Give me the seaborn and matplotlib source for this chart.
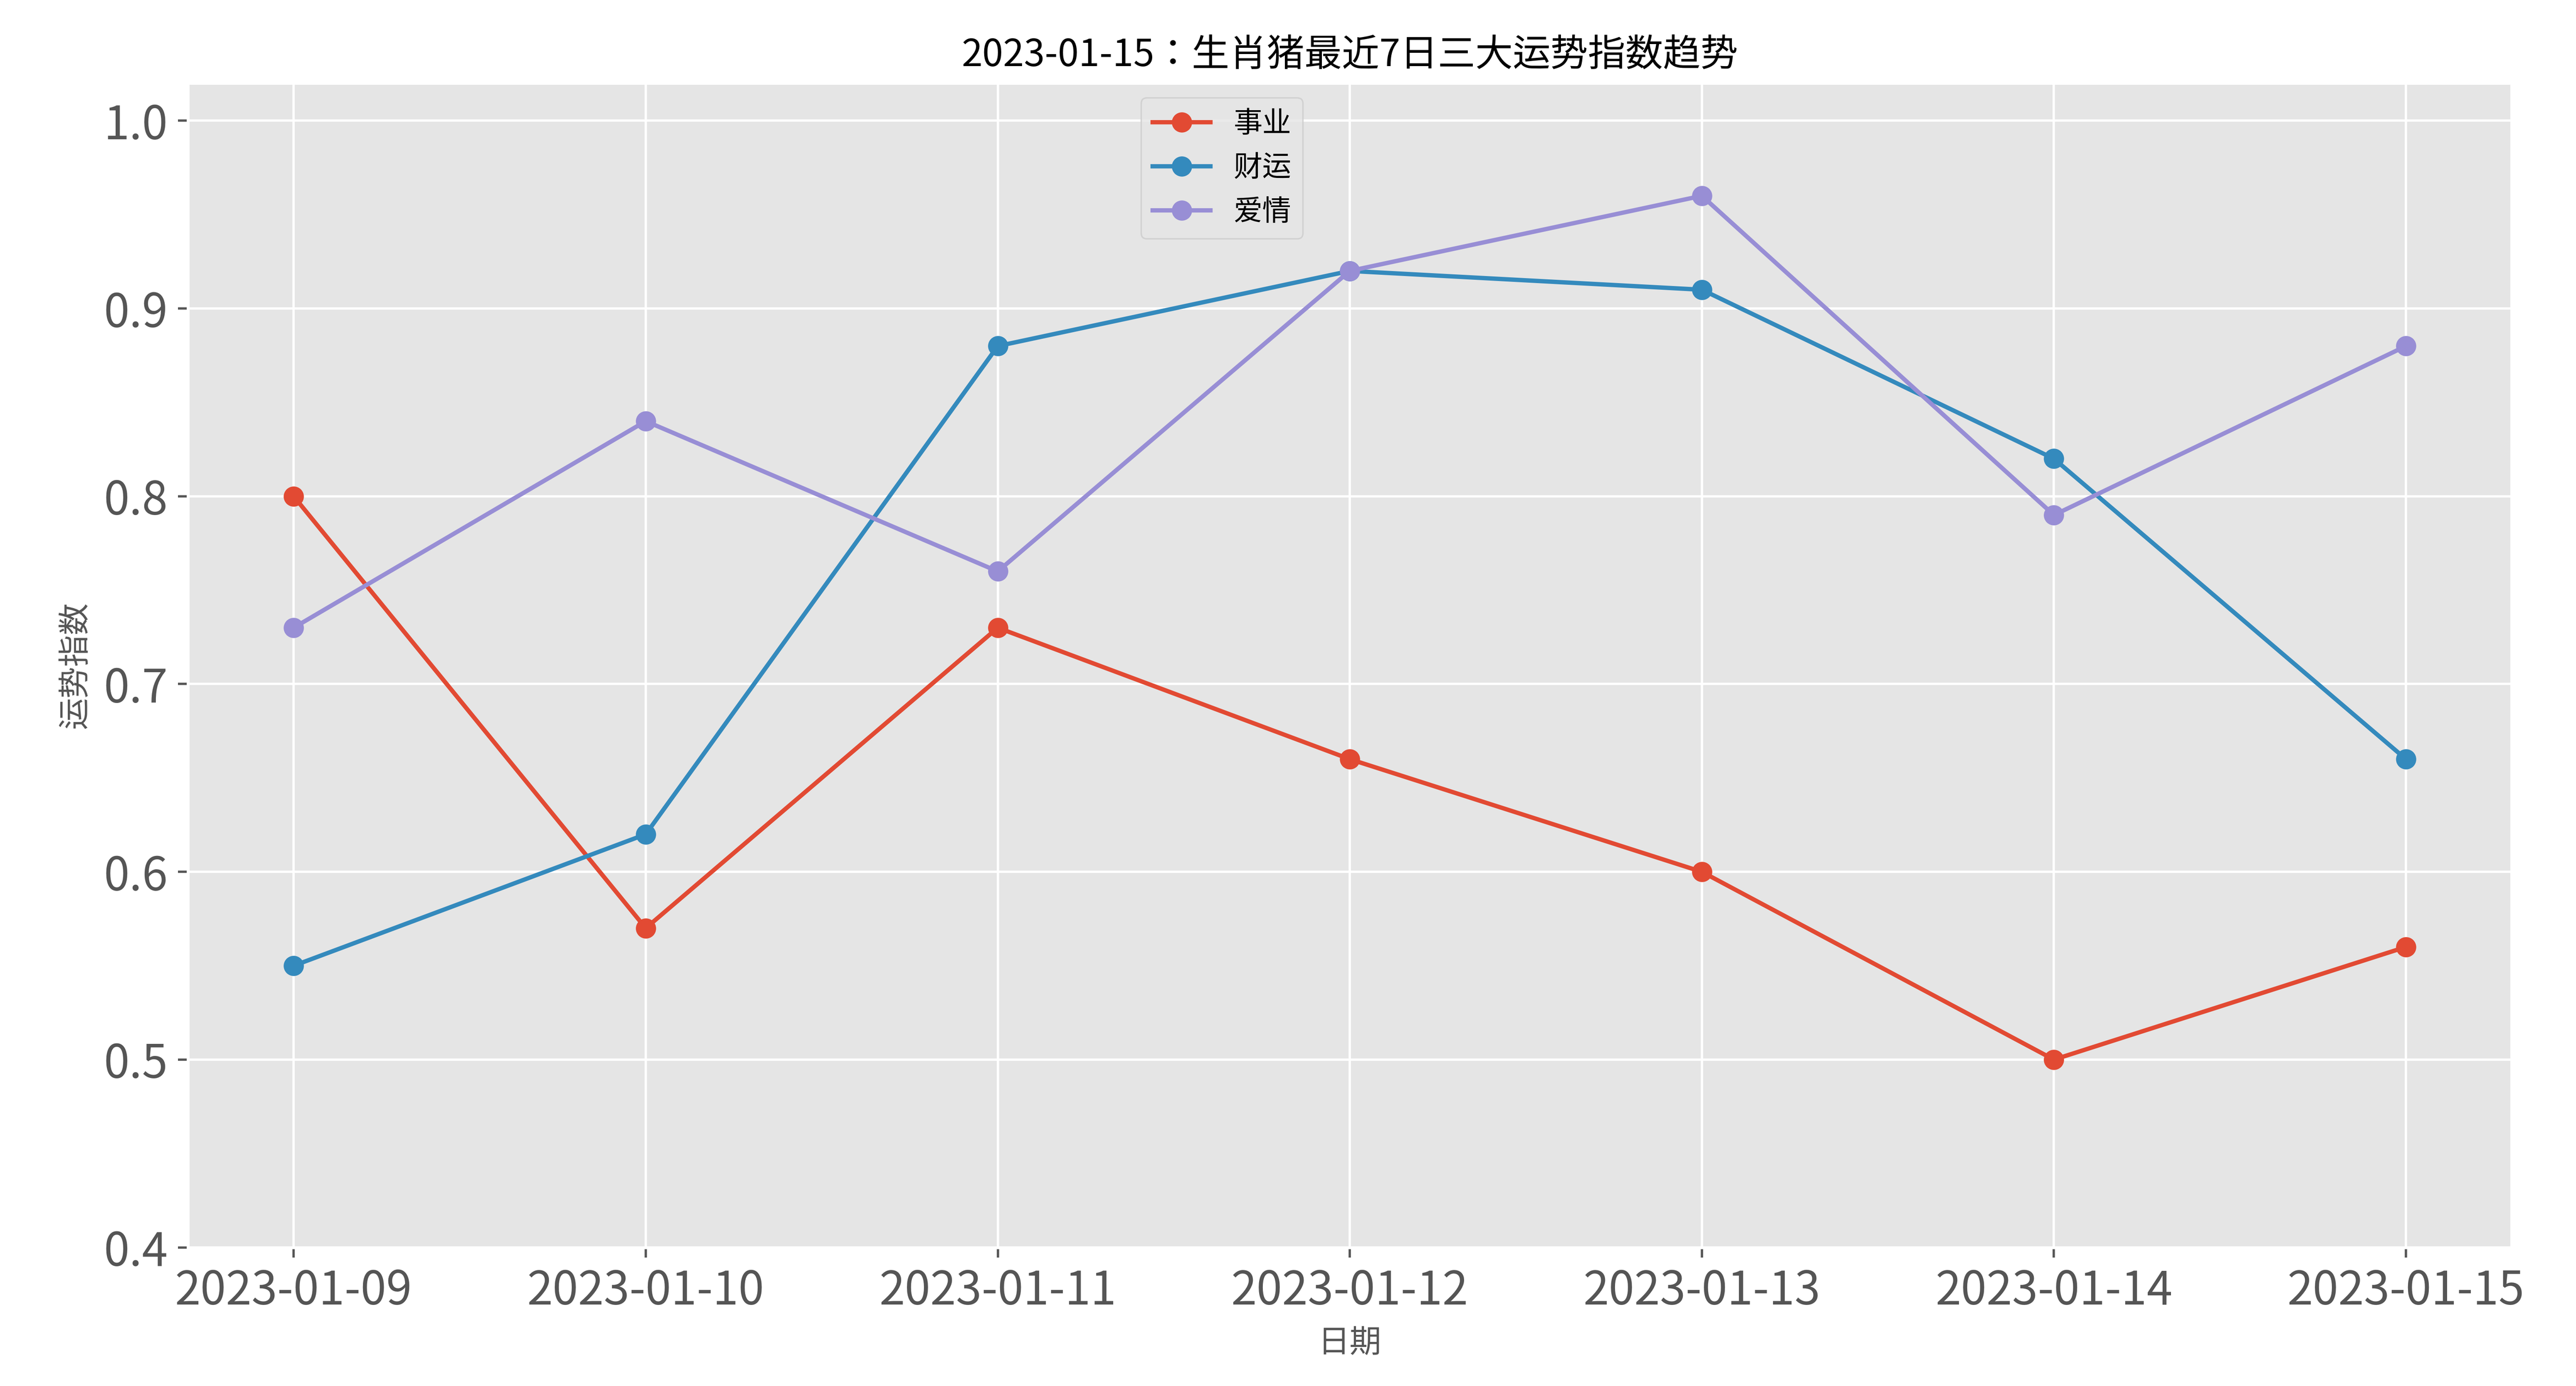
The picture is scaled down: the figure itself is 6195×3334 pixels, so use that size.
import matplotlib
matplotlib.use("Agg")
import matplotlib.pyplot as plt
from matplotlib import font_manager
import seaborn as sns
import pandas as pd

dates = ["2023-01-09","2023-01-10","2023-01-11","2023-01-12","2023-01-13","2023-01-14","2023-01-15"]
career = [0.80,0.57,0.73,0.66,0.60,0.50,0.56]
wealth = [0.55,0.62,0.88,0.92,0.91,0.82,0.66]
love = [0.73,0.84,0.76,0.92,0.96,0.79,0.88]
series_names = ["事业","财运","爱情"]

plt.style.use("ggplot")
names = {f.name for f in font_manager.fontManager.ttflist}
cjk = [n for n in ["Noto Sans CJK SC","Noto Sans CJK JP","Noto Sans CJK TC","Noto Sans CJK KR"] if n in names]
cjk += [f.name for f in font_manager.fontManager.ttflist if "CJK" in f.name]
plt.rcParams["font.family"] = (cjk[:1] if cjk else []) + ["DejaVu Sans"]
plt.rcParams["axes.unicode_minus"] = False

df = pd.DataFrame({"date": dates*3,
                   "value": career+wealth+love,
                   "series": [series_names[0]]*7+[series_names[1]]*7+[series_names[2]]*7})

fig, ax = plt.subplots(figsize=(12.39, 6.668), dpi=500)
colors = ["#E24A33", "#348ABD", "#988ED5"]
for name, c in zip(series_names, colors):
    d = df[df.series == name]
    sns.lineplot(x=d["date"], y=d["value"], ax=ax, color=c, marker="o", markersize=7,
                 markeredgewidth=0, linewidth=1.5, label=name)
ax.set_ylim(0.4, 1.02)
ax.set_xlim(-0.3, 6.3)
ax.set_title("2023-01-15：生肖猪最近7日三大运势指数趋势", fontsize=13)
ax.set_xlabel("日期", fontsize=11)
ax.set_ylabel("运势指数", fontsize=11)
ax.tick_params(labelsize=16)
ax.legend(loc="upper center", bbox_to_anchor=(0.445, 1.0), fontsize=10)
fig.subplots_adjust(left=0.073, right=0.975, top=0.94, bottom=0.1)
fig.savefig("out.png")
